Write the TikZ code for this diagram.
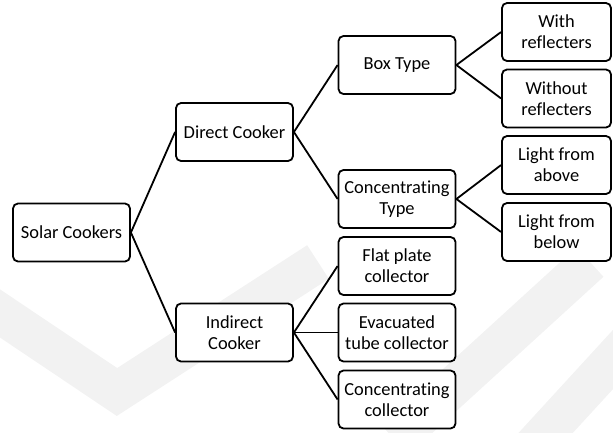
\documentclass[tikz,border=0pt]{standalone}
\usepackage{fontspec}
\setmainfont{Carlito}[RawFeature=-liga]
\begin{document}
\begin{tikzpicture}[x=1pt,y=-1pt,
  box/.style={draw, line width=1.8pt, rounded corners=5pt, fill=white,
    minimum height=58pt, inner sep=0pt, align=center,
    font=\fontsize{18.4}{21}\selectfont},
  midbox/.style={box, minimum width=117pt},
  rbox/.style={box, minimum width=109pt},
  link/.style={line width=1.8pt},
  wm/.style={line width=40pt, color=black!5, line cap=butt, line join=miter}]
\useasboundingbox (0,0) rectangle (613,432);
% faint background watermark
\draw[wm] (-20,300) -- (117,392) -- (318,262);
\draw[wm] (395,440) -- (590,262);
\draw[wm] (530,450) -- (640,330);
% nodes
\node[midbox] (sc) at (71.5,232.5) {Solar Cookers};
\node[midbox] (dc) at (234.5,132) {Direct Cooker};
\node[midbox] (ic) at (234.5,332.5) {Indirect\\Cooker};
\node[midbox] (bt) at (397,65) {Box Type};
\node[midbox] (ct) at (397,199) {Concentrating\\Type};
\node[midbox] (fp) at (397,266) {Flat plate\\collector};
\node[midbox] (ev) at (397,332.5) {Evacuated\\tube collector};
\node[midbox] (cc) at (397,399.5) {Concentrating\\collector};
\node[rbox] (wr) at (556.5,32) {With\\reflecters};
\node[rbox] (wo) at (556.5,98.5) {Without\\reflecters};
\node[rbox] (la) at (556.5,165) {Light from\\above};
\node[rbox] (lb) at (556.5,232) {Light from\\below};
% connectors
\draw[link] (sc.east) -- (dc.west);
\draw[link] (sc.east) -- (ic.west);
\draw[link] (dc.east) -- (bt.west);
\draw[link] (dc.east) -- (ct.west);
\draw[link] (bt.east) -- (wr.west);
\draw[link] (bt.east) -- (wo.west);
\draw[link] (ct.east) -- (la.west);
\draw[link] (ct.east) -- (lb.west);
\draw[link] (ic.east) -- (fp.west);
\draw[link] (ic.east) -- (ev.west);
\draw[link] (ic.east) -- (cc.west);
\end{tikzpicture}
\end{document}
